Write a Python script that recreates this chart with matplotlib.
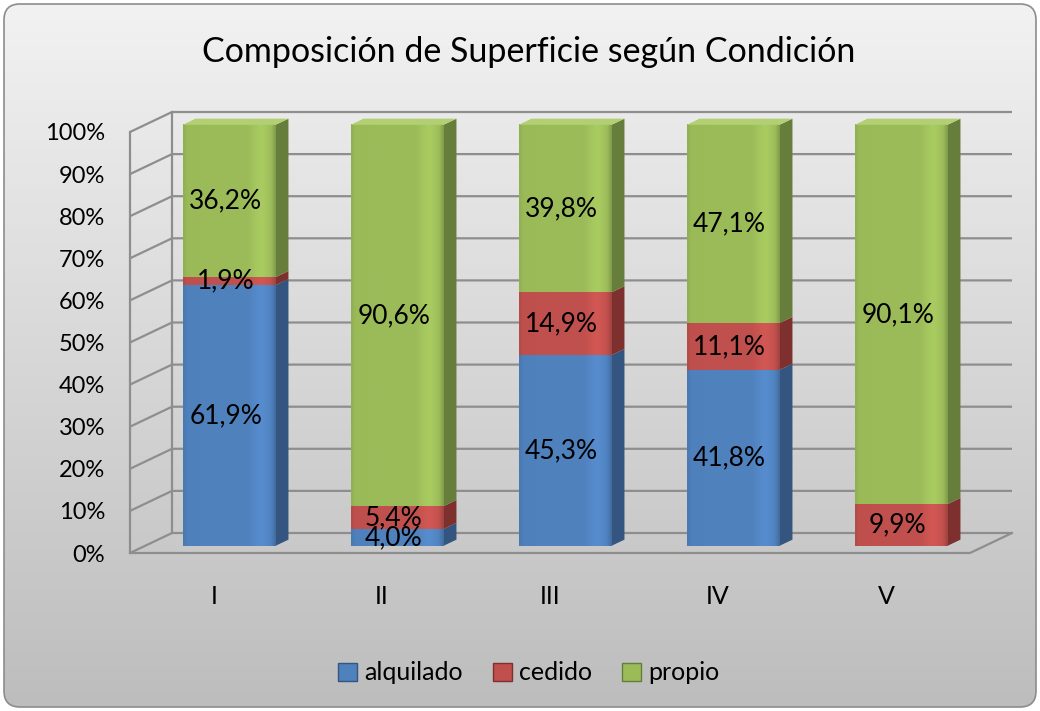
import numpy as np
import matplotlib.pyplot as plt
from matplotlib.patches import Polygon, FancyBboxPatch, Patch
from matplotlib.colors import to_rgb

plt.rcParams['font.family'] = ['Lato', 'DejaVu Sans']

categorias = ['I', 'II', 'III', 'IV', 'V']
alquilado = [61.9, 4.0, 45.3, 41.8, 0.0]
cedido = [1.9, 5.4, 14.9, 11.1, 9.9]
propio = [36.2, 90.6, 39.8, 47.1, 90.1]
nombres = ['alquilado', 'cedido', 'propio']
valores = [alquilado, cedido, propio]

# frente, lateral, tapa
colores = [('#4f81bd', '#34557f', '#6f9ad0'),
           ('#c0504d', '#7d302e', '#d6716e'),
           ('#9bbb59', '#677d3b', '#b2d073')]

W, H = 1040, 711
fig = plt.figure(figsize=(W / 100, H / 100), dpi=100)

# fondo con degradado y borde redondeado
bg = fig.add_axes([0, 0, 1, 1], zorder=-5)
bg.set_xlim(0, W)
bg.set_ylim(0, H)
bg.axis('off')
marco = FancyBboxPatch((4, 4), W - 8, H - 8, boxstyle='round,pad=0,rounding_size=16',
                       facecolor='none', edgecolor='#8c8c8c', linewidth=1.2, zorder=2)
bg.add_patch(marco)
arr = np.linspace(0, 1, 256)
top_c, bot_c = np.array(to_rgb('#f2f2f2')), np.array(to_rgb('#bdbdbd'))
grad = bot_c[None, None, :] * (1 - arr[:, None, None]) + top_c[None, None, :] * arr[:, None, None]
im = bg.imshow(grad, extent=[4, W - 4, 4, H - 4], origin='lower', aspect='auto')
im.set_clip_path(marco)

ax = fig.add_axes([130 / W, (H - 553) / H, 840 / W, 421 / H])
ax.set_xlim(-0.5, 4.5)
ax.set_ylim(0, 100)
ax.patch.set_alpha(0)
for s in ax.spines.values():
    s.set_visible(False)

# profundidad del "3D"
DX, DY = 0.25, 4.75
gris = '#8e8e8e'
lw = 1.6
for v in range(0, 101, 10):
    ax.plot([-0.5, -0.5 + DX, 4.5 + DX], [v, v + DY, v + DY], color=gris, lw=lw,
            clip_on=False, zorder=1, solid_capstyle='butt')
ax.plot([-0.5, -0.5], [0, 100], color=gris, lw=lw, clip_on=False, zorder=1)
ax.plot([-0.5 + DX, -0.5 + DX], [DY, 100 + DY], color=gris, lw=lw, clip_on=False, zorder=1)
ax.plot([-0.5, 4.5, 4.5 + DX], [0, 0, DY], color=gris, lw=lw, clip_on=False, zorder=1)

f1, f2 = 0.357, 0.667
ancho = 0.553


def cara_frontal(x0, x1, y0, y1, color, z):
    # degradado horizontal: borde oscuro y brillo cerca del lado derecho
    c = np.array(to_rgb(color))
    t = np.linspace(0, 1, 80)
    k = (1 + 0.09 * np.exp(-((t - 0.84) / 0.09) ** 2)
         - 0.06 * np.exp(-(t / 0.03) ** 2) - 0.15 * np.exp(-((1 - t) / 0.03) ** 2))
    img = np.clip(c[None, None, :] * k[None, :, None], 0, 1)
    im = ax.imshow(img, extent=[x0, x1, y0, y1], origin='lower', aspect='auto',
                   interpolation='bilinear', zorder=z)
    im.set_clip_on(False)


for i in range(len(categorias)):
    xc = i + f1 * DX
    x0, x1 = xc - ancho / 2, xc + ancho / 2
    oy = f1 * DY
    bdx, bdy = (f2 - f1) * DX, (f2 - f1) * DY
    acum = 0
    for k, v in enumerate(valores):
        val = v[i]
        if val <= 0:
            continue
        y0, y1 = acum + oy, acum + val + oy
        frente, lado, tapa = colores[k]
        ax.add_patch(Polygon([[x1, y0], [x1 + bdx, y0 + bdy], [x1 + bdx, y1 + bdy], [x1, y1]],
                             closed=True, facecolor=lado, edgecolor='none', zorder=2,
                             clip_on=False))
        cara_frontal(x0, x1, y0, y1, frente, 3)
        if acum + val >= 99.9:
            ax.add_patch(Polygon([[x0, y1], [x1, y1], [x1 + bdx, y1 + bdy], [x0 + bdx, y1 + bdy]],
                                 closed=True, facecolor=tapa, edgecolor='none', zorder=3,
                                 clip_on=False))
        etiqueta = f'{val:.1f}'.replace('.', ',') + '%'
        ax.text(xc - 0.02, (y0 + y1) / 2, etiqueta, ha='center', va='center',
                fontsize=19, color='black', zorder=10)
        acum += val

ax.set_yticks(range(0, 101, 10))
ax.set_yticklabels([f'{v}%' for v in range(0, 101, 10)], fontsize=17)
ax.set_xticks(range(len(categorias)))
ax.set_xticklabels(categorias, fontsize=18)
ax.tick_params(axis='y', length=0, pad=18)
ax.tick_params(axis='x', length=0, pad=23)

fig.text(529 / W, 1 - 52 / H, 'Composición de Superficie según Condición',
         ha='center', va='center', fontsize=24.5)

handles = [Patch(facecolor=c[0], edgecolor=c[1], linewidth=1.0) for c in colores]
fig.legend(handles, nombres, loc='center', bbox_to_anchor=(529 / W, 1 - 673 / H), ncol=3,
           frameon=False, fontsize=18, handlelength=0.75, handleheight=0.75,
           handletextpad=0.3, columnspacing=1.2)

fig.savefig('out.png', dpi=100)
